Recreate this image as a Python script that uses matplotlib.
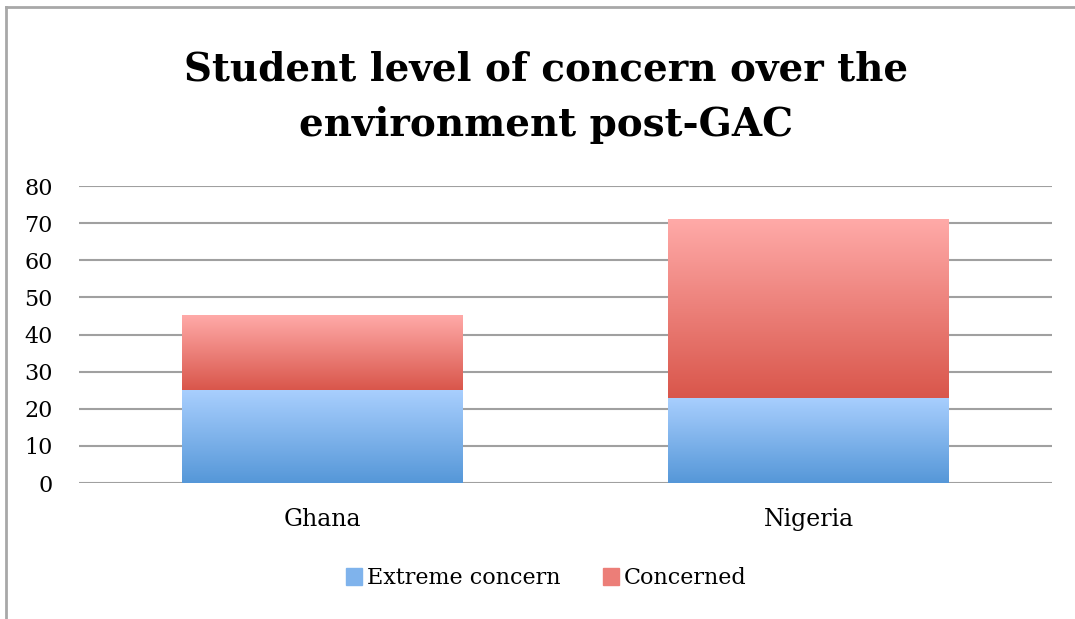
import numpy as np
import matplotlib.pyplot as plt
from matplotlib.colors import LinearSegmentedColormap
from matplotlib.patches import Rectangle
from matplotlib.lines import Line2D

countries = ['Ghana', 'Nigeria']
extreme = [25, 23]
concerned = [20, 48]
series_names = ['Extreme concern', 'Concerned']

blue_top, blue_bot = '#a9cffe', '#5597d8'
red_top, red_bot = '#ffaaa8', '#d9564b'

plt.rcParams['font.family'] = ['DejaVu Serif']

fig = plt.figure(figsize=(10.75, 6.19), dpi=100)
ax = fig.add_axes([0.0735, 0.2197, 0.905, 0.4798])

x = np.arange(len(countries))
b1 = ax.bar(x, extreme, width=0.577, color=blue_bot, zorder=2)
b2 = ax.bar(x, concerned, bottom=extreme, width=0.577, color=red_bot, zorder=2)

# vertical gradient fill for each bar
grad = np.linspace(0, 1, 256).reshape(-1, 1)
for bars, top, bot in [(b1, blue_top, blue_bot), (b2, red_top, red_bot)]:
    cmap = LinearSegmentedColormap.from_list('g', [bot, top])
    for p in bars:
        x0, y0, w, h = p.get_x(), p.get_y(), p.get_width(), p.get_height()
        ax.imshow(grad, cmap=cmap, aspect='auto', origin='lower',
                  extent=(x0, x0 + w, y0, y0 + h), zorder=3)

ax.set_xlim(-0.5, 1.5)
ax.set_ylim(0, 80)
ax.set_yticks(range(0, 81, 10))
ax.set_xticks(x)
ax.set_xticklabels(countries)
ax.yaxis.grid(True, color='#a0a0a0', linewidth=1.5, zorder=0)
ax.set_axisbelow(True)
for s in ['top', 'right', 'left', 'bottom']:
    ax.spines[s].set_visible(False)
ax.tick_params(axis='both', length=0)
ax.tick_params(axis='y', pad=19, labelsize=16)
ax.tick_params(axis='x', pad=18, labelsize=17)

fig.text(0.508, 0.8425, 'Student level of concern over the\nenvironment post-GAC',
         ha='center', va='center', fontsize=28, fontweight='bold',
         linespacing=1.6)

handles = [Rectangle((0, 0), 1, 1, color=c) for c in ['#7fb3ec', '#ec7e78']]
fig.legend(handles, series_names, loc='center', bbox_to_anchor=(0.508, 0.066),
           ncol=2, frameon=False, fontsize=16, handlelength=0.75,
           handleheight=0.75, handletextpad=0.2, columnspacing=1.9)

# chart border
fig.add_artist(Line2D([0.0056, 0.0056], [0, 0.989], color='#a8a8a8', lw=2,
                      transform=fig.transFigure))
fig.add_artist(Line2D([0.0056, 1], [0.989, 0.989], color='#a8a8a8', lw=2,
                      transform=fig.transFigure))

fig.savefig('out.png', dpi=100)
